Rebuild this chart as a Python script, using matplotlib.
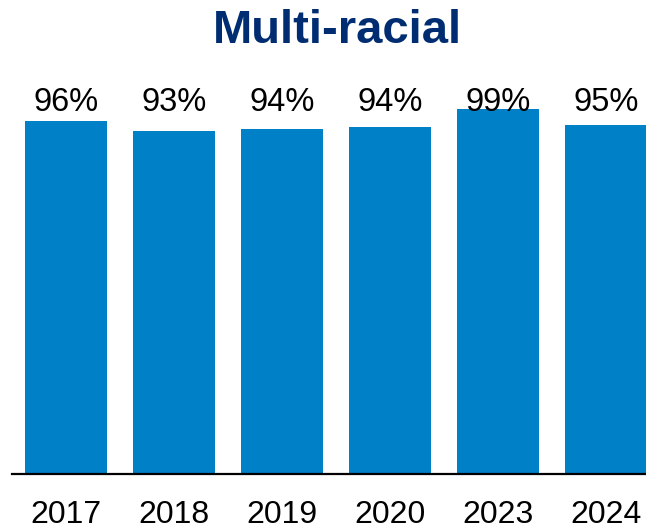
import matplotlib
matplotlib.use("Agg")
import matplotlib.pyplot as plt

years = ["2017", "2018", "2019", "2020", "2023", "2024"]
values = [96.0, 93.2, 93.8, 94.4, 99.4, 95.0]
labels = [f"{v:.0f}%" for v in values]
title = "Multi-racial"

bar_color = "#0080C6"
title_color = "#002D72"

plt.rcParams["font.family"] = ["Liberation Sans", "DejaVu Sans"]

fig = plt.figure(figsize=(6.46, 5.29), dpi=100)
ax = fig.add_axes([12 / 646, 55 / 529, 648 / 646, 367.7 / 529])
x = range(len(years))
ax.bar(x, values, width=0.76, color=bar_color, zorder=2)
ax.set_xlim(-0.5, len(years) - 0.5)
ax.set_ylim(0, 100)

for i, lab in enumerate(labels):
    ax.text(i, 98.6, lab, ha="center", va="baseline", fontsize=23.5, color="black", zorder=3)

ax.set_xticks(list(x))
ax.set_xticklabels(years, fontsize=23)
ax.tick_params(axis="x", length=0, pad=19)
ax.set_yticks([])
for s in ["left", "right", "top"]:
    ax.spines[s].set_visible(False)
ax.spines["bottom"].set_linewidth(1.6)
ax.spines["bottom"].set_color("black")

fig.text(337 / 646, 1 - 31 / 529, title, ha="center", va="center", fontsize=34,
         fontweight="bold", color=title_color)

fig.savefig("out.png", dpi=100)
